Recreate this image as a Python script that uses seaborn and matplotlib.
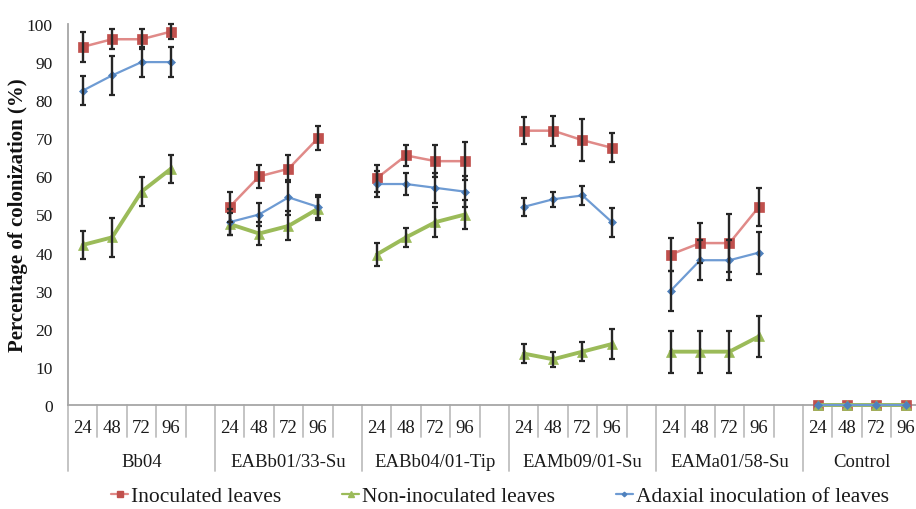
import numpy as np
import pandas as pd
import matplotlib
matplotlib.use("Agg")
import matplotlib.pyplot as plt
import matplotlib.transforms as mtransforms
from matplotlib.lines import Line2D
import seaborn as sns

# ---- data -------------------------------------------------------------
groups = ["Bb04", "EABb01/33-Su", "EABb04/01-Tip", "EAMb09/01-Su", "EAMa01/58-Su", "Control"]
hours = ["24", "48", "72", "96"]

inoculated = [94, 96, 96, 98, 52, 60, 62, 70, 59.5, 65.5, 64, 64,
              72, 72, 69.5, 67.5, 39.5, 42.5, 42.5, 52, 0, 0, 0, 0]
inoculated_err = [3.9, 2.6, 2.6, 2.0, 4.0, 3.1, 3.5, 3.1, 3.5, 2.8, 4.2, 5.0,
                  3.6, 3.9, 5.5, 3.8, 4.3, 5.2, 7.6, 5.0, 0, 0, 0, 0]
non_inoculated = [42, 44, 56, 62, 47.5, 45, 47, 51.5, 39.5, 44, 48, 50,
                  13.5, 12, 14, 16, 14, 14, 14, 18, 0, 0, 0, 0]
non_inoculated_err = [3.8, 5.1, 3.9, 3.7, 3.0, 3.0, 3.8, 3.0, 3.0, 2.5, 3.9, 3.8,
                      2.5, 1.9, 2.5, 4.0, 5.5, 5.5, 5.5, 5.3, 0, 0, 0, 0]
adaxial = [82.5, 86.5, 90, 90, 48, 50, 54.5, 52, 58, 58, 57, 56,
           52, 54, 55, 48, 30, 38, 38, 40, 0, 0, 0, 0]
adaxial_err = [3.8, 5.1, 4.0, 4.0, 3.5, 3.0, 4.5, 3.0, 3.3, 2.8, 4.0, 4.0,
               2.4, 2.0, 2.5, 3.8, 5.2, 5.2, 5.3, 5.5, 0, 0, 0, 0]

series_names = ["Inoculated leaves", "Non-inoculated leaves", "Adaxial inoculation of leaves"]

# ---- long table ---------------------------------------------------------
slots = len(hours) + 1          # each strain gets an empty slot after its four times
rows = []
for name, vals, errs in zip(series_names,
                            [inoculated, non_inoculated, adaxial],
                            [inoculated_err, non_inoculated_err, adaxial_err]):
    for gi, g in enumerate(groups):
        for hi, h in enumerate(hours):
            k = gi * len(hours) + hi
            rows.append(dict(series=name, group=g, hour=h,
                             pos=gi * slots + hi, value=vals[k], err=errs[k]))
df = pd.DataFrame(rows)
n_cats = len(groups) * slots - 1

# ---- styling ------------------------------------------------------------
sns.set_style("white")
plt.rcParams["font.family"] = ["Liberation Serif", "DejaVu Serif"]

style = {
    "Inoculated leaves": dict(line="#E08A88", face="#C0504D", marker="s", ms=7, lw=1.8),
    "Non-inoculated leaves": dict(line="#9BBB59", face="#9BBB59", marker="^", ms=7.5, lw=2.8),
    "Adaxial inoculation of leaves": dict(line="#6E9BD3", face="#4F81BD", marker="D", ms=4.2, lw=1.6),
}

W, H = 916, 510
fig = plt.figure(figsize=(W / 100, H / 100), dpi=100)
ax_left, ax_bottom_px, ax_top_px = 68, 406, 25
cat_w = 29.4
ax = fig.add_axes([ax_left / W, 1 - ax_bottom_px / H,
                   n_cats * cat_w / W, (ax_bottom_px - ax_top_px) / H])

axis_grey = "#A6A6A6"

for name in series_names:
    st = style[name]
    sub = df[df["series"] == name]
    sns.lineplot(data=sub, x="pos", y="value", units="group", estimator=None,
                 color=st["line"], lw=st["lw"], marker=st["marker"],
                 markersize=st["ms"], markerfacecolor=st["face"],
                 markeredgecolor=st["face"], markeredgewidth=0.5,
                 ax=ax, legend=False, clip_on=False, zorder=3)
    eb = sub[sub["err"] > 0]
    ax.errorbar(eb["pos"], eb["value"], yerr=eb["err"], fmt="none",
                ecolor="#262626", elinewidth=1.7, capsize=2.5, capthick=1.6,
                zorder=4, clip_on=False)

ax.set_xlim(-0.5, n_cats - 0.5)
ax.set_ylim(0, 100)
ax.set_yticks(np.arange(0, 101, 10))
ax.tick_params(axis="y", direction="out", length=5, width=1, color=axis_grey,
               labelsize=12.5, pad=6, labelcolor="#1a1a1a")
ax.set_xticks([])
ax.set_xlabel("")
ax.set_ylabel("Percentage of colonization (%)", fontsize=15, fontweight="bold",
              color="#111111")
ax.yaxis.set_label_coords(-0.047, 0.5)
for s in ["top", "right"]:
    ax.spines[s].set_visible(False)
for s in ["left", "bottom"]:
    ax.spines[s].set_color(axis_grey)
    ax.spines[s].set_linewidth(1.3)

# ---- two-level category axis -------------------------------------------
trans = mtransforms.blended_transform_factory(ax.transData, ax.transAxes)
px = 1.0 / (ax_bottom_px - ax_top_px)  # one pixel in axes-fraction units
minor_drop = -32 * px
major_drop = -66 * px
for b in range(n_cats + 1):
    xb = b - 0.5
    is_major = (b % slots == 0)
    ax.plot([xb, xb], [0, major_drop if is_major else minor_drop], transform=trans,
            color="#BFBFBF", lw=1.3, clip_on=False, zorder=1)

for gi, g in enumerate(groups):
    for hi, h in enumerate(hours):
        ax.text(gi * slots + hi, -23 * px, h, transform=trans, ha="center", va="center",
                fontsize=13.5, color="#1a1a1a")
    start = gi * slots - 0.5
    end = min(start + slots, n_cats - 0.5)
    ax.text((start + end) / 2, -57 * px, g, transform=trans, ha="center", va="center",
            fontsize=13.5, color="#1a1a1a")

# ---- legend -------------------------------------------------------------
handles = [Line2D([], [], color=style[n]["line"], lw=1.6, marker=style[n]["marker"],
                  markersize=style[n]["ms"] * 0.55, markerfacecolor=style[n]["face"],
                  markeredgecolor=style[n]["face"]) for n in series_names]
fig.legend(handles, series_names, loc="center", bbox_to_anchor=(500 / W, 1 - 497 / H),
           ncol=3, frameon=False, fontsize=15.5, handlelength=0.8, handletextpad=0.15,
           columnspacing=2.8, labelcolor="#1a1a1a")

fig.savefig("out.png", dpi=100)
